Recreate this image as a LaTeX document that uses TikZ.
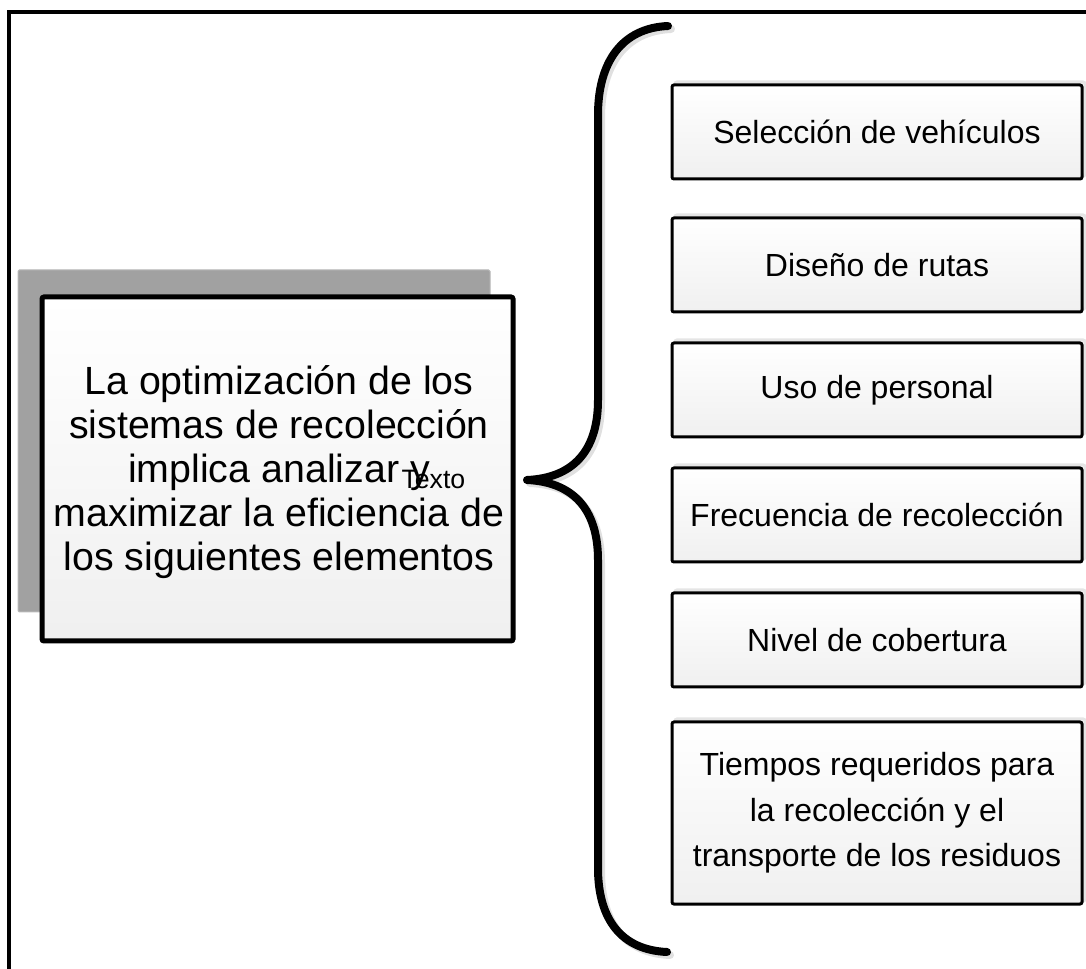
\documentclass[tikz,border=0pt]{standalone}
\usepackage{fontspec}
\setmainfont{Liberation Sans}

\tikzset{every picture/.style={line width=0.75pt}}
\tikzset{
  itembox/.style={draw, line width=2.25pt, rounded corners=1.5pt, top color=white, bottom color=black!6,
    minimum width=307.5pt, minimum height=70.5pt, inner sep=0pt, align=center,
    font=\fontsize{24}{34}\selectfont,
    preaction={draw=black!10, line width=2.25pt, transform canvas={shift={(3,3)}}}},
  bracepath/.style={line width=6pt, line cap=round, line join=round}
}

\begin{document}
\begin{tikzpicture}[x=0.75pt,y=0.75pt,yscale=-1,xscale=1]
\useasboundingbox (0,0) rectangle (1086,969);

%Frame
\draw [line width=3pt]   (9,969) -- (9,12) -- (1086,12) ;

%Shape: Rectangle (back)
\node [draw=black!28, fill=black!37, rounded corners=1pt, minimum width=354pt, minimum height=256.5pt] (back) at (254,441) {};
%Shape: Rectangle (main)
\node [draw, line width=3.75pt, rounded corners=1.5pt, top color=white, bottom color=black!6, minimum width=353.25pt, minimum height=258pt] (main) at (277.5,469) {};

% Text Node
\node [align=center, inner sep=0pt, font=\fontsize{29.5}{33}\selectfont] (maintxt) at (279,472) {La optimización de los\\ sistemas de recolección\\ implica analizar y\\ maximizar la eficiencia de\\ los siguientes elementos};
% Text Node
\node [anchor=base west, inner sep=0pt, font=\fontsize{20}{22}\selectfont] (texto) at (401,489) {Texto};

%Curve Lines (brace)
\draw [bracepath, black!12, shift={(3,3)}]  (668,26) .. controls (622,28) and (598,62) .. (598,115) -- (598,400) .. controls (598,452) and (572,478) .. (527,480) .. controls (572,482) and (598,508) .. (598,560) -- (598,868) .. controls (598,920) and (622,950) .. (667,952) ;
\draw [bracepath]  (668,26) .. controls (622,28) and (598,62) .. (598,115) -- (598,400) .. controls (598,452) and (572,478) .. (527,480) .. controls (572,482) and (598,508) .. (598,560) -- (598,868) .. controls (598,920) and (622,950) .. (667,952) ;

%Shape: Rectangles (items)
\node [itembox] (veh) at (877,132) {Selección de vehículos};
\node [itembox] (rutas) at (877,265) {Diseño de rutas};
\node [itembox] (pers) at (877,390) {Uso de personal};
\node [itembox] (frec) at (877,515) {Frecuencia de recolección};
\node [itembox] (cob) at (877,640) {Nivel de cobertura};
\node [itembox, minimum height=136.5pt] (tiempos) at (877,813) {Tiempos requeridos para\\ la recolección y el\\ transporte de los residuos};

\end{tikzpicture}
\end{document}
